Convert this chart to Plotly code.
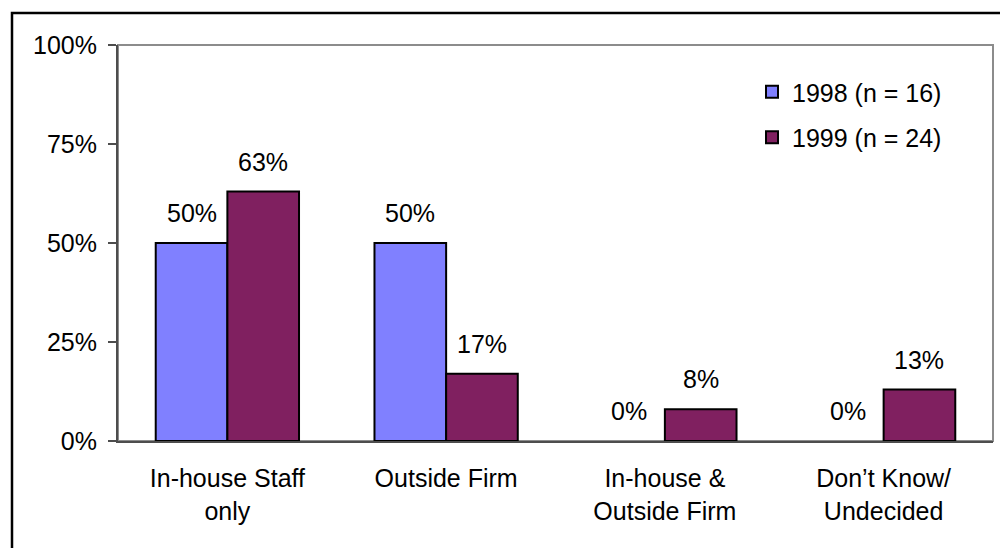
import plotly.graph_objects as go

# Data
categories = ["In-house Staff<br>only", "Outside Firm", "In-house &<br>Outside Firm", "Don\u2019t Know/<br>Undecided"]
series_names = ["1998 (n = 16)", "1999 (n = 24)"]
values_1998 = [50, 50, 0, 0]
values_1999 = [63, 17, 8, 13]
y_ticks = [0, 25, 50, 75, 100]
y_tick_labels = [f"{t}%" for t in y_ticks]

colors = ["#8080FF", "#802060"]
FONT = "Liberation Sans, Arial, sans-serif"
FONT_SIZE = 25

W, H = 1000, 548
M_L, M_R, M_T, M_B = 118, 7, 45, 107
BARGAP = 0.345

fig = go.Figure()
for name, vals, col in zip(series_names, [values_1998, values_1999], colors):
    fig.add_trace(go.Bar(
        x=categories, y=vals, name=name,
        marker=dict(color=col,
                    line=dict(color="black", width=[2 if v else 0 for v in vals])),
        legendgroup=name,
    ))

# value labels above each bar
plot_w = W - M_L - M_R
bar_w = plot_w / len(categories) * (1 - BARGAP) / 2
for k, vals in enumerate([values_1998, values_1999]):
    shift = (k - 0.5) * bar_w
    for cat, v in zip(categories, vals):
        fig.add_annotation(
            x=cat, y=v, text=f"{v}%", showarrow=False,
            xshift=shift, yshift=30, yanchor="middle",
            font=dict(family=FONT, size=FONT_SIZE, color="black"),
        )

# grey plot-area border
fig.add_shape(type="rect", xref="paper", yref="paper", x0=0, x1=1, y0=0, y1=1,
              line=dict(color="#8c8c8c", width=2), layer="below")
# outer black frame
fig.add_shape(type="rect", xref="paper", yref="paper",
              x0=(12 - M_L) / plot_w, x1=1.05,
              y0=-0.5, y1=(H - M_B - 13) / (H - M_T - M_B),
              line=dict(color="black", width=2.5))

fig.update_layout(
    width=W, height=H,
    margin=dict(l=M_L, r=M_R, t=M_T, b=M_B),
    paper_bgcolor="white", plot_bgcolor="white",
    barmode="group", bargap=BARGAP, bargroupgap=0,
    font=dict(family=FONT, size=FONT_SIZE, color="black"),
    showlegend=True,
    legend=dict(
        x=(752 - M_L) / plot_w, y=(H - M_B - 69) / (H - M_T - M_B),
        xanchor="left", yanchor="top",
        bgcolor="rgba(0,0,0,0)", tracegroupgap=10,
        font=dict(family=FONT, size=FONT_SIZE, color="black"),
    ),
    xaxis=dict(
        showline=True, linecolor="#4d4d4d", linewidth=2,
        ticks="", showgrid=False, ticklabelstandoff=14,
        tickfont=dict(family=FONT, size=FONT_SIZE, color="black"),
    ),
    yaxis=dict(
        range=[0, 100], tickmode="array", tickvals=y_ticks, ticktext=y_tick_labels,
        showline=True, linecolor="#4d4d4d", linewidth=2,
        ticks="outside", ticklen=8, tickwidth=2, tickcolor="#4d4d4d",
        showgrid=False, zeroline=False, ticklabelstandoff=6,
        tickfont=dict(family=FONT, size=FONT_SIZE, color="black"),
    ),
)

fig.write_html("out.html")
